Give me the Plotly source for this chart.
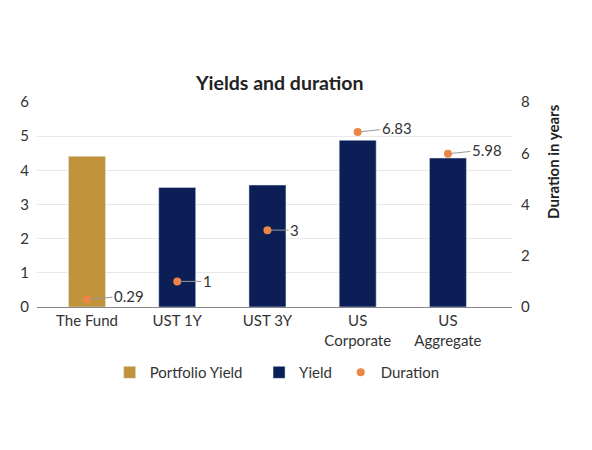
import plotly.graph_objects as go

categories = ["The Fund", "UST 1Y", "UST 3Y", "US<br>Corporate", "US<br>Aggregate"]
portfolio_yield = [4.41, None, None, None, None]
yield_values = [None, 3.50, 3.57, 4.88, 4.36]
duration = [0.29, 1, 3, 6.83, 5.98]
duration_labels = ["0.29", "1", "3", "6.83", "5.98"]
label_offsets = [(42, -4), (30, 0), (27, 0), (39, -4), (39, -4)]

FONT = "Lato"
GOLD = "#C0923A"
NAVY = "#0B1E55"
ORANGE = "#EE8545"
NB = "\u00a0"

fig = go.Figure()
fig.add_trace(go.Bar(x=categories, y=portfolio_yield, name="Portfolio Yield" + NB * 3,
                     marker_color=GOLD, width=0.41))
fig.add_trace(go.Bar(x=categories, y=yield_values, name="Yield" + NB * 1,
                     marker_color=NAVY, width=0.41))
fig.add_trace(go.Scatter(x=categories, y=duration, name="Duration", yaxis="y2",
                         mode="markers", marker=dict(color=ORANGE, size=8)))

for c, d, lab, (ax, ay) in zip(categories, duration, duration_labels, label_offsets):
    fig.add_annotation(x=c, y=d, yref="y2", text=lab, showarrow=True,
                       arrowhead=0, arrowwidth=1, arrowcolor="#9A9A9A",
                       ax=ax, ay=ay, standoff=3,
                       font=dict(family=FONT, size=15, color="#333333"))

fig.add_annotation(text="<b>Duration in years</b>", xref="paper", yref="paper",
                   x=1.085, y=1.0, xanchor="center", yanchor="top",
                   textangle=-90, showarrow=False,
                   font=dict(family=FONT, size=15, color="#222222"))

fig.update_layout(
    width=592, height=450,
    margin=dict(l=20, r=88, t=94, b=151),
    paper_bgcolor="white", plot_bgcolor="white",
    barmode="overlay",
    font=dict(family=FONT, size=15, color="#333333"),
    title=dict(text="<b>Yields and duration</b>", x=0.459, xref="container",
               xanchor="center", y=0.833, yref="container", yanchor="middle",
               font=dict(family=FONT, size=19.5, color="#222222")),
    xaxis=dict(range=[-0.554, 4.71], showgrid=False, showline=True,
               linecolor="#888888", linewidth=1, ticks="",
               tickfont=dict(family=FONT, size=15, color="#333333")),
    yaxis=dict(range=[0, 6], dtick=1, showgrid=True, gridcolor="#E8E8E8",
               zeroline=False, ticks="", ticklabelstandoff=7,
               tickfont=dict(family=FONT, size=15, color="#333333")),
    yaxis2=dict(range=[0, 8], dtick=2, overlaying="y", side="right",
                showgrid=False, zeroline=False, ticks="", ticklabelstandoff=8,
                tickfont=dict(family=FONT, size=15, color="#333333")),
    legend=dict(orientation="h", x=0.5056, xanchor="center", y=-0.32,
                yanchor="middle", font=dict(family=FONT, size=15, color="#333333"),
                itemwidth=30),
    showlegend=True,
)

fig.write_html("out.html")
